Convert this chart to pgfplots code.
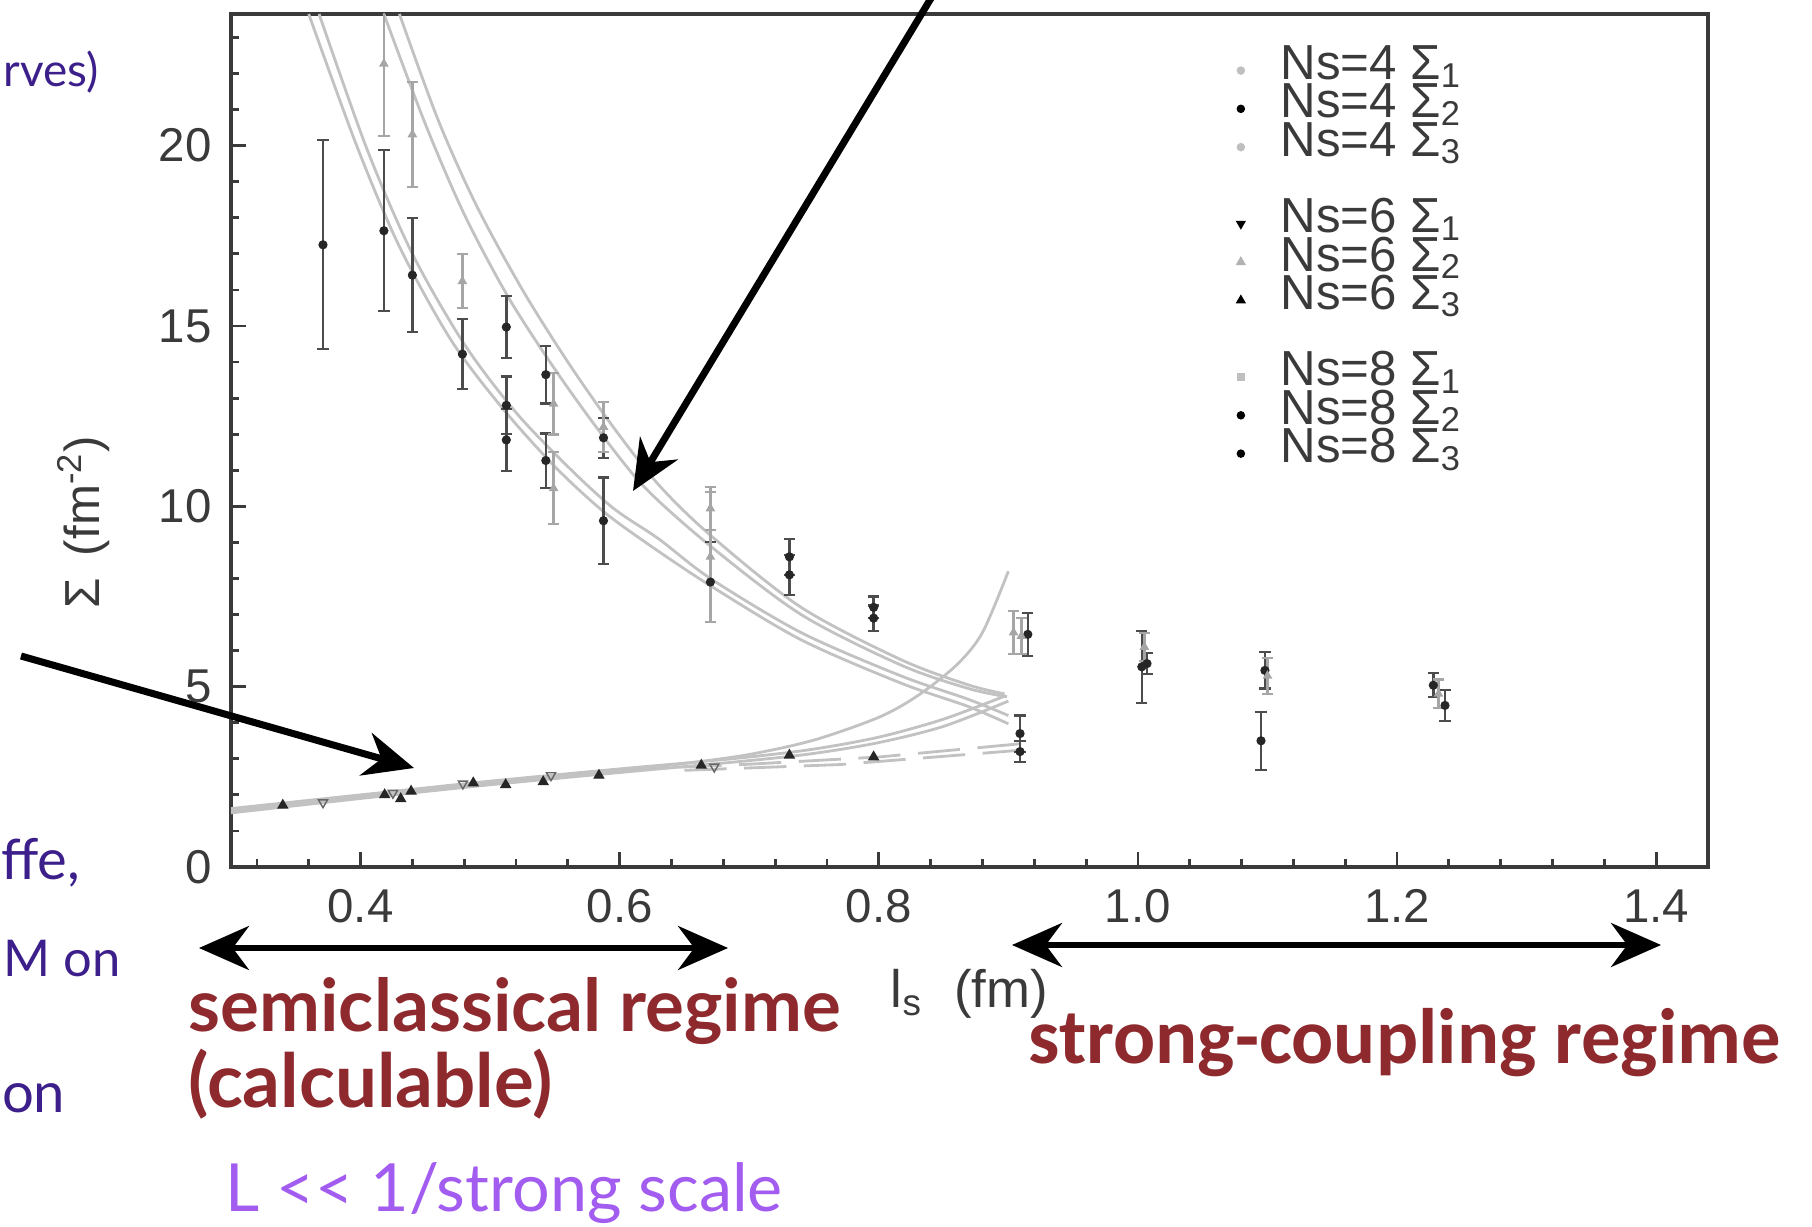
\documentclass[border=0pt]{standalone}
\usepackage{fontspec}
\setmainfont{Liberation Sans}
\newfontfamily\gill{Lato}
\newfontfamily\cali{Carlito}
\usepackage{graphicx}
\usepackage{pgfplots}
\usepackage{pgfplotstable}
\pgfplotsset{compat=1.18}
\usetikzlibrary{arrows.meta}

\definecolor{slidered}{HTML}{8E2A2E}
\definecolor{slideindigo}{HTML}{3C1F8A}
\definecolor{slidelilac}{HTML}{A25CF0}
\definecolor{axgray}{HTML}{3A3A3A}
\definecolor{fitgray}{HTML}{C2C2C2}

% upper branch, dark points: l_s, Sigma, error
\pgfplotstableread{
x y ey
0.371 17.25 2.9
0.418 17.64 2.23
0.440 16.41 1.58
0.4786 14.22 0.97
0.5125 14.97 0.85
0.5125 12.8 0.8
0.5125 11.84 0.85
0.543 13.65 0.8
0.543 11.27 0.75
0.5875 11.9 0.55
0.5875 9.6 1.2
0.670 7.9 1.1
0.731 8.6 0.5
0.731 8.1 0.55
0.796 7.2 0.3
0.796 6.9 0.35
0.915 6.45 0.6
0.909 3.7 0.5
0.909 3.2 0.3
1.003 5.55 1.0
1.007 5.64 0.3
1.095 3.5 0.8
1.098 5.45 0.5
1.228 5.04 0.33
1.237 4.48 0.42
}\darkpts

% upper branch, light points
\pgfplotstableread{
x y ey
0.418 22.27 2.0
0.440 20.31 1.45
0.4786 16.24 0.75
0.549 12.84 0.85
0.549 10.5 1.0
0.5875 12.2 0.7
0.670 9.94 0.6
0.670 8.6 1.8
0.904 6.5 0.6
0.910 6.4 0.5
1.005 6.1 0.4
1.100 5.3 0.5
1.232 4.8 0.4
}\lightpts

% lower branch
\pgfplotstableread{
x y
0.340 1.71
0.4186 2.0
0.431 1.89
0.439 2.1
0.487 2.33
0.512 2.28
0.541 2.36
0.584 2.54
0.663 2.82
0.731 3.1
0.796 3.05
}\lowdark

\pgfplotstableread{
x y
0.371 1.79
0.425 2.05
0.479 2.31
0.547 2.54
0.673 2.78
}\lowlight

\begin{document}
\begin{tikzpicture}
\useasboundingbox (0,0) rectangle (18.12,12.26);
\begin{axis}[
    at={(2.31cm,3.59cm)}, anchor=south west,
    scale only axis, width=14.77cm, height=8.53cm,
    xmin=0.3, xmax=1.44, ymin=0, ymax=23.65,
    axis line style={axgray, line width=1.2pt},
    tick align=inside, xtick pos=lower, ytick pos=left,
    xtick={0.4,0.6,0.8,1.0,1.2,1.4},
    minor xtick={0.32,0.36,0.44,0.48,0.52,0.56,0.64,0.68,0.72,0.76,0.84,0.88,0.92,0.96,1.04,1.08,1.12,1.16,1.24,1.28,1.32,1.36},
    ytick={0,5,10,15,20},
    minor ytick={1,2,3,4,6,7,8,9,11,12,13,14,16,17,18,19,21,22,23},
    major tick length=0.15cm, minor tick length=0.08cm,
    every tick/.style={axgray, line width=0.8pt},
    /pgf/number format/assume math mode=true,
    x tick label style={yshift=-0.1cm, /pgf/number format/fixed, /pgf/number format/fixed zerofill, /pgf/number format/precision=1},
    y tick label style={xshift=-0.07cm},
    tick label style={font=\fontsize{13.5}{15}\selectfont, text=axgray},
    xlabel={l\textsubscript{s}\hspace{0.6em}(fm)},
    ylabel={Σ\hspace{0.45em}(fm\textsuperscript{-2})},
    every axis x label/.style={at={(axis description cs:0.5,-0.149)}, anchor=center,
        font=\fontsize{15}{17}\selectfont, text=axgray},
    every axis y label/.style={at={(axis description cs:-0.1,0.404)}, rotate=90, anchor=center,
        font=\fontsize{14}{16}\selectfont, text=axgray},
    legend style={at={(rel axis cs:0.676,0.957)}, anchor=north west, draw=none, fill=none,
        font=\fontsize{14}{16}\selectfont, text=axgray, row sep=0pt, inner sep=0pt,
        nodes={inner sep=0.6pt, text height=7.4pt, text depth=2.3pt}},
    legend cell align=left,
    legend image code/.code={\path (0cm,0cm) (0.47cm,0cm); \draw[#1] plot coordinates {(0.1cm,0cm)};},
]
% fitted curves, upper branch
\addplot[forget plot, fitgray, line width=0.8pt, smooth] coordinates {(0.418,23.65) (0.45,20.6) (0.48,18.1) (0.514,15.8) (0.55,13.8) (0.586,12.0) (0.62,10.5) (0.67,8.9) (0.74,7.0) (0.817,5.6) (0.869,4.95) (0.899,4.72)};
\addplot[forget plot, fitgray, line width=0.8pt, smooth] coordinates {(0.43,23.65) (0.46,20.7) (0.49,18.3) (0.525,16.0) (0.56,14.0) (0.595,12.2) (0.63,10.6) (0.67,9.2) (0.74,7.2) (0.817,5.75) (0.869,5.05) (0.897,4.8)};
\addplot[forget plot, fitgray, line width=0.8pt, smooth] coordinates {(0.36,23.65) (0.397,20.0) (0.43,17.2) (0.47,14.6) (0.51,12.7) (0.55,11.1) (0.586,9.9) (0.62,9.0) (0.67,7.8) (0.74,6.3) (0.817,5.1) (0.869,4.45) (0.9,3.97)};
\addplot[forget plot, fitgray, line width=0.8pt, smooth] coordinates {(0.368,23.65) (0.405,19.9) (0.44,17.0) (0.48,14.5) (0.52,12.6) (0.56,11.1) (0.595,9.95) (0.63,9.1) (0.67,8.0) (0.74,6.5) (0.817,5.3) (0.869,4.65) (0.9,4.2)};
% fitted curves, lower branch
\addplot[forget plot, fitgray, line width=0.8pt, smooth] coordinates {(0.30,1.55) (0.35,1.75) (0.40,1.95) (0.45,2.15) (0.50,2.33) (0.55,2.5) (0.60,2.67) (0.65,2.87) (0.70,3.12) (0.75,3.52) (0.80,4.15) (0.83,4.75) (0.86,5.6) (0.88,6.5) (0.90,8.2)};
\addplot[forget plot, fitgray, line width=0.8pt, smooth] coordinates {(0.30,1.62) (0.40,2.0) (0.50,2.38) (0.60,2.72) (0.65,2.88) (0.70,3.05) (0.75,3.27) (0.80,3.6) (0.85,4.1) (0.898,4.75)};
\addplot[forget plot, fitgray, line width=0.8pt, smooth] coordinates {(0.30,1.5) (0.40,1.9) (0.50,2.28) (0.60,2.62) (0.70,2.95) (0.75,3.15) (0.80,3.45) (0.85,3.9) (0.9,4.6)};
\addplot[forget plot, fitgray, line width=0.8pt, dash pattern=on 12pt off 5pt] coordinates {(0.60,2.7) (0.70,2.85) (0.80,3.05) (0.91,3.42)};
\addplot[forget plot, fitgray, line width=0.8pt, dash pattern=on 12pt off 5pt] coordinates {(0.65,2.68) (0.77,2.84) (0.91,3.24)};
% data points
\addplot[forget plot, only marks, mark=*, mark size=1.1pt, black!85,
    error bars/.cd, y dir=both, y explicit,
    error bar style={line width=0.7pt, black!70},
    error mark options={rotate=90, mark size=1.6pt, line width=0.6pt, black!70}]
    table[x=x, y=y, y error=ey] {\darkpts};
\addplot[forget plot, only marks, mark=triangle*, mark size=1.2pt, black!35,
    error bars/.cd, y dir=both, y explicit,
    error bar style={line width=0.7pt, black!35},
    error mark options={rotate=90, mark size=1.6pt, line width=0.6pt, black!35}]
    table[x=x, y=y, y error=ey] {\lightpts};
\addplot[forget plot, only marks, mark=triangle*, mark size=1.5pt, black!85] table[x=x, y=y] {\lowdark};
\addplot[forget plot, only marks, mark=triangle, mark options={rotate=180}, mark size=1.5pt, black!60] table[x=x, y=y] {\lowlight};
% legend
\addlegendimage{only marks, mark=*, mark size=1pt, black!25}
\addlegendentry{Ns=4 Σ\textsubscript{1}}
\addlegendimage{only marks, mark=*, mark size=1pt, black}
\addlegendentry{Ns=4 Σ\textsubscript{2}}
\addlegendimage{only marks, mark=*, mark size=1pt, black!25}
\addlegendentry{Ns=4 Σ\textsubscript{3}}
\addlegendimage{empty legend}
\addlegendentry{}
\addlegendimage{only marks, mark=triangle*, mark options={rotate=180}, mark size=1.3pt, black}
\addlegendentry{Ns=6 Σ\textsubscript{1}}
\addlegendimage{only marks, mark=triangle*, mark size=1.3pt, black!30}
\addlegendentry{Ns=6 Σ\textsubscript{2}}
\addlegendimage{only marks, mark=triangle*, mark size=1.3pt, black}
\addlegendentry{Ns=6 Σ\textsubscript{3}}
\addlegendimage{empty legend}
\addlegendentry{}
\addlegendimage{only marks, mark=square*, mark size=0.9pt, black!25}
\addlegendentry{Ns=8 Σ\textsubscript{1}}
\addlegendimage{only marks, mark=*, mark size=1pt, black}
\addlegendentry{Ns=8 Σ\textsubscript{2}}
\addlegendimage{only marks, mark=*, mark size=1pt, black}
\addlegendentry{Ns=8 Σ\textsubscript{3}}
\end{axis}

% slide annotations
\draw[line width=2pt, -{Stealth[length=5mm, width=4.4mm]}] (9.36,12.36) -- (6.33,7.35);
\draw[line width=2pt, -{Stealth[length=5mm, width=4.4mm]}] (0.21,5.70) -- (4.14,4.58);
\draw[line width=1.6pt, {Stealth[length=5mm, width=4.4mm]}-{Stealth[length=5mm, width=4.4mm]}] (1.99,2.78) -- (7.28,2.78);
\draw[line width=1.6pt, {Stealth[length=5mm, width=4.4mm]}-{Stealth[length=5mm, width=4.4mm]}] (10.12,2.81) -- (16.61,2.81);

\node[anchor=base west, inner sep=0, text=slidered] at (1.88,1.94) {\resizebox{6.52cm}{!}{\gill\bfseries semiclassical regime}};
\node[anchor=base west, inner sep=0, text=slidered] at (1.88,1.19) {\resizebox{3.64cm}{!}{\gill\bfseries (calculable)}};
\node[anchor=base west, inner sep=0, text=slidered] at (10.28,1.63) {\resizebox{7.52cm}{!}{\cali\bfseries strong-coupling regime}};
\node[anchor=base west, inner sep=0, text=slidelilac] at (2.25,0.15) {\resizebox{5.57cm}{!}{\gill L << 1/strong scale}};

\node[anchor=base west, inner sep=0, text=slideindigo] at (0.03,11.39) {\resizebox{0.95cm}{!}{\gill rves)}};
\node[anchor=base east, inner sep=0, text=slideindigo, font=\gill\fontsize{16}{18}\selectfont] at (0.81,3.47) {ffe,};
\node[anchor=base west, inner sep=0, text=slideindigo] at (0.03,2.50) {\resizebox{1.17cm}{!}{\gill M on}};
\node[anchor=base east, inner sep=0, text=slideindigo, font=\gill\fontsize{16}{18}\selectfont] at (0.66,1.14) {on};
\end{tikzpicture}
\end{document}
